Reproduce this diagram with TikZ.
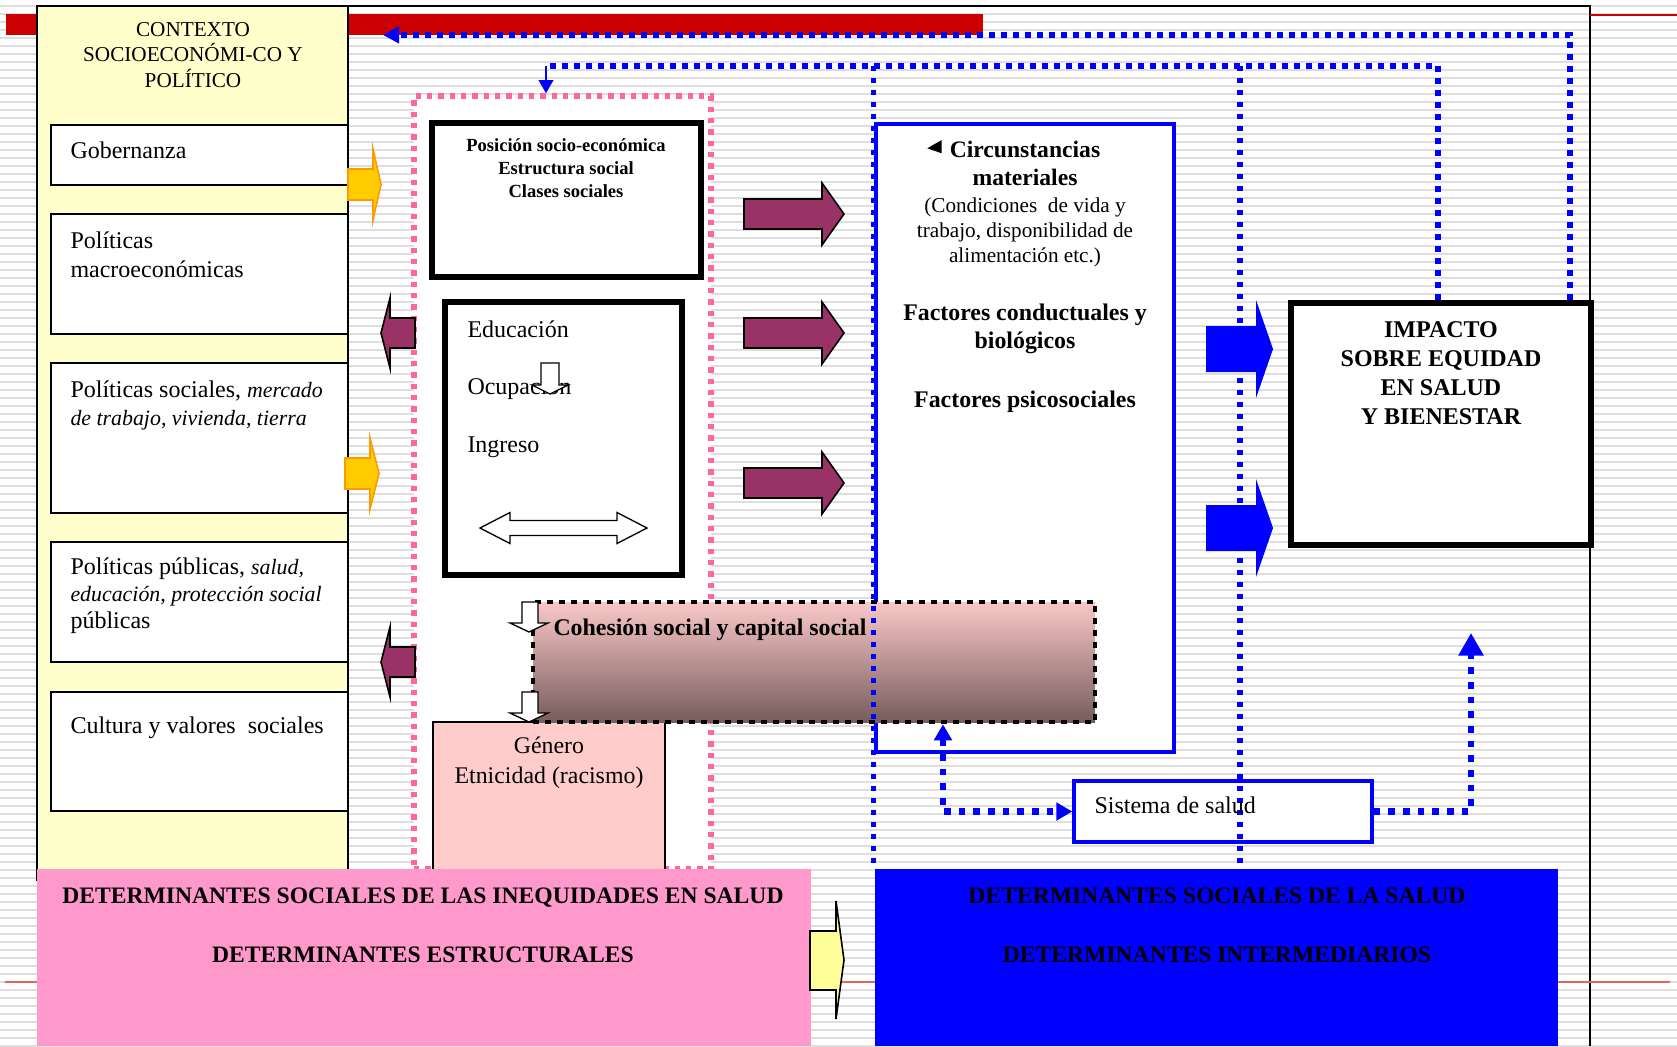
\documentclass[tikz,border=0pt]{standalone}
\usepackage{fontspec}
\setmainfont{Liberation Serif}
\usetikzlibrary{fit,arrows.meta}

\definecolor{ctxyellow}{RGB}{255,255,204}
\definecolor{barred}{RGB}{204,0,0}
\definecolor{dotpink}{RGB}{255,102,153}
\definecolor{plum}{RGB}{153,51,102}
\definecolor{goldfill}{RGB}{255,204,0}
\definecolor{goldline}{RGB}{255,153,0}
\definecolor{rosefill}{RGB}{255,204,204}
\definecolor{cohtop}{RGB}{250,200,200}
\definecolor{cohmid}{RGB}{214,164,164}
\definecolor{cohbot}{RGB}{118,92,92}
\definecolor{strucpink}{RGB}{255,153,204}
\definecolor{paleyellow}{RGB}{255,255,153}
\definecolor{stripe}{RGB}{222,222,222}

\tikzset{every picture/.style={line width=0.75pt}}

\begin{document}
\begin{tikzpicture}[x=0.75pt,y=0.75pt,yscale=-1,xscale=1,
  box/.style={draw, fill=white, inner sep=0pt},
  thinbox/.style={box, line width=1.5pt},
  heavybox/.style={box, line width=4.2pt},
  bluebox/.style={box, draw=blue, line width=3.4pt},
  pinkdots/.style={box, draw=dotpink, line width=4pt, dash pattern=on 4pt off 4.5pt},
  fbline/.style={draw=blue, line width=4pt, dash pattern=on 4pt off 5pt},
  sysline/.style={draw=blue, line width=4.8pt, dash pattern=on 5pt off 6pt},
  purplearrow/.style={fill=plum, draw=black, line width=1.2pt},
  goldarrow/.style={fill=goldfill, draw=goldline, line width=1.2pt},
  whitearrow/.style={fill=white, draw=black, line width=1pt},
  lbl/.style={inner sep=0pt, font=\fontsize{18}{21.75}\selectfont},
  boldlbl/.style={inner sep=0pt, font=\fontsize{17.7}{21.75}\selectfont\bfseries},
  itl/.style={font=\fontsize{16}{20}\selectfont\itshape}]
\useasboundingbox (0,0) rectangle (1677,1046);

%Background stripes
\fill[white] (0,0) rectangle (1677,1046);
\foreach \y in {6,14,...,1046}
  \fill[stripe] (0,\y-1.2) rectangle (1677,\y+1.2);

%Straight Lines
\draw[line width=1.2pt] (37,6) -- (1590,6) -- (1590,1046);
\draw[barred, line width=1.5pt] (1590,14.5) -- (1677,14.5);
\draw[barred!60, line width=1.5pt] (5,982) -- (1670,982);
\fill[barred] (6,14) rectangle (983,35);

%Shape: Rectangle
\node[box, fill=ctxyellow, line width=1.2pt, fit={(37,6) (348,880)}] (ctx) {};
\node[thinbox, fit={(51,125) (348,185)}] (gob) {};
\node[thinbox, fit={(51,214) (348,334)}] (macro) {};
\node[thinbox, fit={(51,363) (348,513)}] (soc) {};
\node[thinbox, fit={(51,542) (348,662)}] (pub) {};
\node[thinbox, fit={(51,692) (348,811)}] (cult) {};

%Shape: Rectangle
\node[pinkdots, fit={(414,96) (711,869)}] (estruct) {};
\node[heavybox, fit={(432,123) (701,277)}] (pos) {};
\node[heavybox, fit={(445,302) (682,575)}] (edu) {};
\node[bluebox, fit={(876,124) (1174,752)}] (circ) {};
\node[heavybox, line width=4.8pt, fit={(1291,303) (1591,545)}] (imp) {};
\node[thinbox, fill=rosefill, fit={(433,722) (665,880)}] (gen) {};
\node[inner sep=0pt, top color=cohtop, middle color=cohmid, bottom color=cohbot,
  draw=black, line width=3.4pt, dash pattern=on 4.5pt off 4.5pt,
  fit={(533,602) (1095,722)}] (coh) {};
\node[box, draw=blue, line width=2.6pt, fit={(1074,781) (1372,842)}] (sal) {};

%Straight Lines
\coordinate (fb1) at (1570,35);
\coordinate (fbend) at (383,35);
\coordinate (fb2) at (1438,66);
\coordinate (fb3) at (546,66);
\coordinate (vline) at (1240,66);
\coordinate (vbot) at (0,868);
\coordinate (sl) at (943,811.5);
\coordinate (sr) at (1471,633);
\draw[fbline, -{Triangle[length=12pt,width=12pt]}] (imp.north -| fb1) -- (fb1) -- (fbend);
\draw[fbline] (imp.north -| fb2) -- (fb2) -- (fb3);
\draw[blue, line width=1.5pt, -{Triangle[length=10pt,width=11pt]}] (fb3) -- (fb3 |- estruct.north);
\draw[fbline] (fb2 -| circ.west) -- (vbot -| circ.west);
\draw[fbline] (vline) -- (vline |- vbot);
\draw[sysline, {Triangle[length=12pt,width=13pt]}-{Triangle[length=12pt,width=13pt]}] (sl |- coh.south) -- (sl) -- (sal.west);
\draw[sysline, -{Triangle[length=17pt,width=18pt]}] (sal.east) -| (sr);

%Shape: Arrows
\draw[goldarrow] (348,169) -- (373,169) -- (373,149) -- (381,184.5) -- (373,220) -- (373,200) -- (348,200) -- cycle;
\draw[goldarrow] (345,458) -- (370,458) -- (370,438) -- (379,473.5) -- (370,509) -- (370,489) -- (345,489) -- cycle;
\foreach \c in {214,333,483}
  \draw[purplearrow] (744,\c-15) -- (822,\c-15) -- (822,\c-31) -- (844,\c) -- (822,\c+31) -- (822,\c+15) -- (744,\c+15) -- cycle;
\foreach \c in {333,662}
  \draw[purplearrow] (415,\c-15) -- (390,\c-15) -- (390,\c-35) -- (381,\c) -- (390,\c+35) -- (390,\c+15) -- (415,\c+15) -- cycle;
\foreach \c in {349,528}
  \fill[blue] (1206,\c-23) -- (1256,\c-23) -- (1256,\c-49) -- (1273,\c) -- (1256,\c+49) -- (1256,\c+23) -- (1206,\c+23) -- cycle;
\draw[whitearrow] (480,528) -- (510,512.5) -- (510,520.5) -- (617,520.5) -- (617,512.5) -- (647,528) -- (617,543.5) -- (617,535.5) -- (510,535.5) -- (510,543.5) -- cycle;
\draw[whitearrow] (522,602) -- (538,602) -- (538,623) -- (548,623) -- (529,632) -- (510,623) -- (522,623) -- cycle;
\draw[whitearrow] (522,692) -- (538,692) -- (538,713) -- (548,713) -- (529,722) -- (510,713) -- (522,713) -- cycle;
\fill (941.7,140) -- (941.7,153.3) -- (927.3,148.3) -- cycle;

%Shape: Rectangle
\node[inner sep=0pt, fill=strucpink, fit={(37,869) (811,1046)}] (ineq) {};
\node[inner sep=0pt, fill=blue, fit={(875,869) (1558,1046)}] (interm) {};
\draw[fill=paleyellow, draw=black, line width=1.2pt] (810,931) -- (836,931) -- (836,901) -- (844,960) -- (836,1019) -- (836,990) -- (810,990) -- cycle;

% Text Node
\node[inner sep=0pt, align=center, anchor=base, font=\fontsize{15.9}{19.1}\selectfont] (ctxtxt) at (193,87) {CONTEXTO\\SOCIOECONÓMI-CO Y\\POLÍTICO};
% Text Node
\node[lbl, anchor=base west] (gobtxt) at (70,158) {Gobernanza};
% Text Node
\node[lbl, anchor=base west, align=left, font=\fontsize{18}{21.75}\selectfont] (macrotxt) at (70,277) {Políticas\\macroeconómicas};
% Text Node
\node[lbl, anchor=base west, align=left, font=\fontsize{18}{21}\selectfont] (soctxt) at (70,425) {Políticas sociales, {\fontsize{16.4}{21}\selectfont\itshape mercado}\\{\fontsize{16.4}{21}\selectfont\itshape de trabajo, vivienda, tierra}};
% Text Node
\node[lbl, anchor=base west, align=left, font=\fontsize{18}{20}\selectfont] (pubtxt) at (70,628) {Políticas públicas, {\fontsize{16.4}{20}\selectfont\itshape salud,}\\{\fontsize{16.4}{20}\selectfont\itshape educación, protección social}\\públicas};
% Text Node
\node[lbl, anchor=base west] (culttxt) at (70,733) {Cultura y valores~ sociales};
% Text Node
\node[inner sep=0pt, align=center, anchor=base, font=\fontsize{13.9}{16.9}\selectfont\bfseries] (postxt) at (566,197) {Posición socio-económica\\Estructura social\\Clases sociales};
% Text Node
\node[lbl, anchor=base west, align=left, font=\fontsize{18}{43}\selectfont] (edutxt) at (467,452) {Educación\\Ocupación\\Ingreso};
\draw[whitearrow] (541,363) -- (559,363) -- (559,385) -- (568,385) -- (550,394) -- (532,385) -- (541,385) -- cycle;
% Text Node
\node[boldlbl, anchor=base, align=center, font=\fontsize{17.7}{21}\selectfont\bfseries] (circtxt) at (1025,185) {Circunstancias\\materiales};
% Text Node
\node[inner sep=0pt, anchor=base, align=center, font=\fontsize{15.9}{18.75}\selectfont] (condtxt) at (1025,262) {(Condiciones~ de vida y\\trabajo, disponibilidad de\\alimentación etc.)};
% Text Node
\node[boldlbl, anchor=base, align=center, font=\fontsize{17.9}{21}\selectfont\bfseries] (factxt) at (1025,348) {Factores conductuales y\\biológicos};
% Text Node
\node[boldlbl, anchor=base, font=\fontsize{17.9}{21}\selectfont\bfseries] (psitxt) at (1025,407) {Factores psicosociales};
% Text Node
\node[boldlbl, anchor=base, align=center, font=\fontsize{18}{21.75}\selectfont\bfseries] (imptxt) at (1441,424) {IMPACTO\\SOBRE EQUIDAD\\EN SALUD\\Y BIENESTAR};
% Text Node
\node[boldlbl, anchor=base west, font=\fontsize{17.9}{21}\selectfont\bfseries] (cohtxt) at (553,635) {Cohesión social y capital social};
% Text Node
\node[lbl, anchor=base, align=center, font=\fontsize{17.9}{22.5}\selectfont] (gentxt) at (549,783) {Género\\Etnicidad (racismo)};
% Text Node
\node[lbl, anchor=base west] (saltxt) at (1094,813) {Sistema de salud};
% Text Node
\node[boldlbl, anchor=base, align=center, font=\fontsize{17.7}{44.25}\selectfont\bfseries] (ineqtxt) at (423,962) {DETERMINANTES SOCIALES DE LAS INEQUIDADES EN SALUD\\DETERMINANTES ESTRUCTURALES};
% Text Node
\node[boldlbl, anchor=base, align=center, font=\fontsize{17.7}{44.25}\selectfont\bfseries] (intermtxt) at (1217,962) {DETERMINANTES SOCIALES DE LA SALUD\\DETERMINANTES INTERMEDIARIOS};

\end{tikzpicture}
\end{document}
